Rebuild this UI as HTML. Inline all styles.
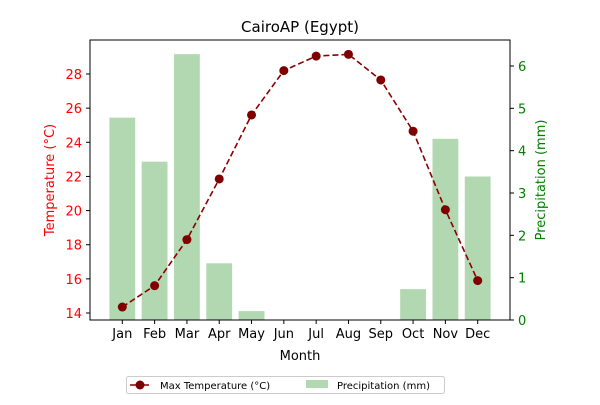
<!DOCTYPE html>
<html><head><meta charset="utf-8"><style>
body{margin:0;background:#fff;}
svg text{font-family:"DejaVu Sans","Liberation Sans",sans-serif;}
</style></head><body>
<svg id="chart" width="600" height="400" xmlns="http://www.w3.org/2000/svg">
<rect width="600" height="400" fill="#fff"/>
<text x="300" y="32" text-anchor="middle" font-size="15">CairoAP (Egypt)</text>
<g id="bars"></g><g id="line"></g><g id="axes"></g>
</svg>
<script>
const months=["Jan","Feb","Mar","Apr","May","Jun","Jul","Aug","Sep","Oct","Nov","Dec"];
const maxTemp=[14.35,15.6,18.3,21.85,25.6,28.2,29.05,29.15,27.65,24.65,20.05,15.9];
const precip=[4.78,3.74,6.28,1.34,0.21,0,0,0,0,0.73,4.28,3.39];
const leftTicks=[14,16,18,20,22,24,26,28];
const rightTicks=[0,1,2,3,4,5,6];
const NS="http://www.w3.org/2000/svg";
const L=90,R=510,T=40,B=320;
const step=(R-L)/13;
const x=i=>L+step*(i+1);
const yT=v=>313-(v-14)*(313-74)/14;
const yP=v=>320-v*(320-66)/6;
function mk(tag,attrs,parent,txt){const e=document.createElementNS(NS,tag);for(const k in attrs)e.setAttribute(k,attrs[k]);if(txt!==undefined)e.textContent=txt;parent.appendChild(e);return e;}
const bars=document.getElementById('bars'),line=document.getElementById('line'),axes=document.getElementById('axes');
const bw=step*0.8;
precip.forEach((v,i)=>{const r=mk('rect',{x:x(i)-bw/2,y:yP(v),width:bw,height:B-yP(v),fill:'#b2d8b2'},bars);

});
const pts=maxTemp.map((v,i)=>x(i)+','+yT(v)).join(' ');
const pl=mk('polyline',{points:pts,fill:'none',stroke:'#8b0000','stroke-width':1.6,'stroke-dasharray':'6,3'},line);


maxTemp.forEach((v,i)=>{const c=mk('circle',{cx:x(i),cy:yT(v),r:4.5,fill:'#800000'},line);

});
const fr=mk('rect',{x:L,y:T,width:R-L,height:B-T,fill:'none',stroke:'#000','stroke-width':1},axes);


months.forEach((m,i)=>{mk('line',{x1:x(i),x2:x(i),y1:B,y2:B+4,stroke:'#000'},axes);
const t=mk('text',{x:x(i),y:B+18,'text-anchor':'middle','font-size':13},axes,m);

});
leftTicks.forEach(v=>{mk('line',{x1:L-4,x2:L,y1:yT(v),y2:yT(v),stroke:'#000'},axes);
const t=mk('text',{x:L-8,y:yT(v)+5,'text-anchor':'end','font-size':13,fill:'red'},axes,v);

});
rightTicks.forEach(v=>{mk('line',{x1:R,x2:R+4,y1:yP(v),y2:yP(v),stroke:'#000'},axes);
const t=mk('text',{x:R+8,y:yP(v)+5,'font-size':13,fill:'green'},axes,v);

});
let t=mk('text',{x:300,y:360,'text-anchor':'middle','font-size':13},axes,'Month');


t=mk('text',{x:0,y:0,'text-anchor':'middle','font-size':13,fill:'red',transform:'translate(54,180) rotate(-90)'},axes,'Temperature (°C)');


t=mk('text',{x:0,y:0,'text-anchor':'middle','font-size':13,fill:'green',transform:'translate(545,180) rotate(-90)'},axes,'Precipitation (mm)');


const lg=mk('g',{},axes);


mk('rect',{x:126.5,y:376.5,width:318,height:17,rx:2,fill:'#fff',stroke:'#ccc'},lg);
mk('line',{x1:130,x2:149,y1:385,y2:385,stroke:'#8b0000','stroke-width':1.6},lg);
mk('circle',{cx:140,cy:385,r:4.5,fill:'#800000'},lg);
mk('text',{x:160,y:389,'font-size':10},lg,'Max Temperature (°C)');
mk('rect',{x:306,y:380,width:22,height:8,fill:'#b2d8b2'},lg);
mk('text',{x:337,y:389,'font-size':10},lg,'Precipitation (mm)');
</script>
</body></html>
